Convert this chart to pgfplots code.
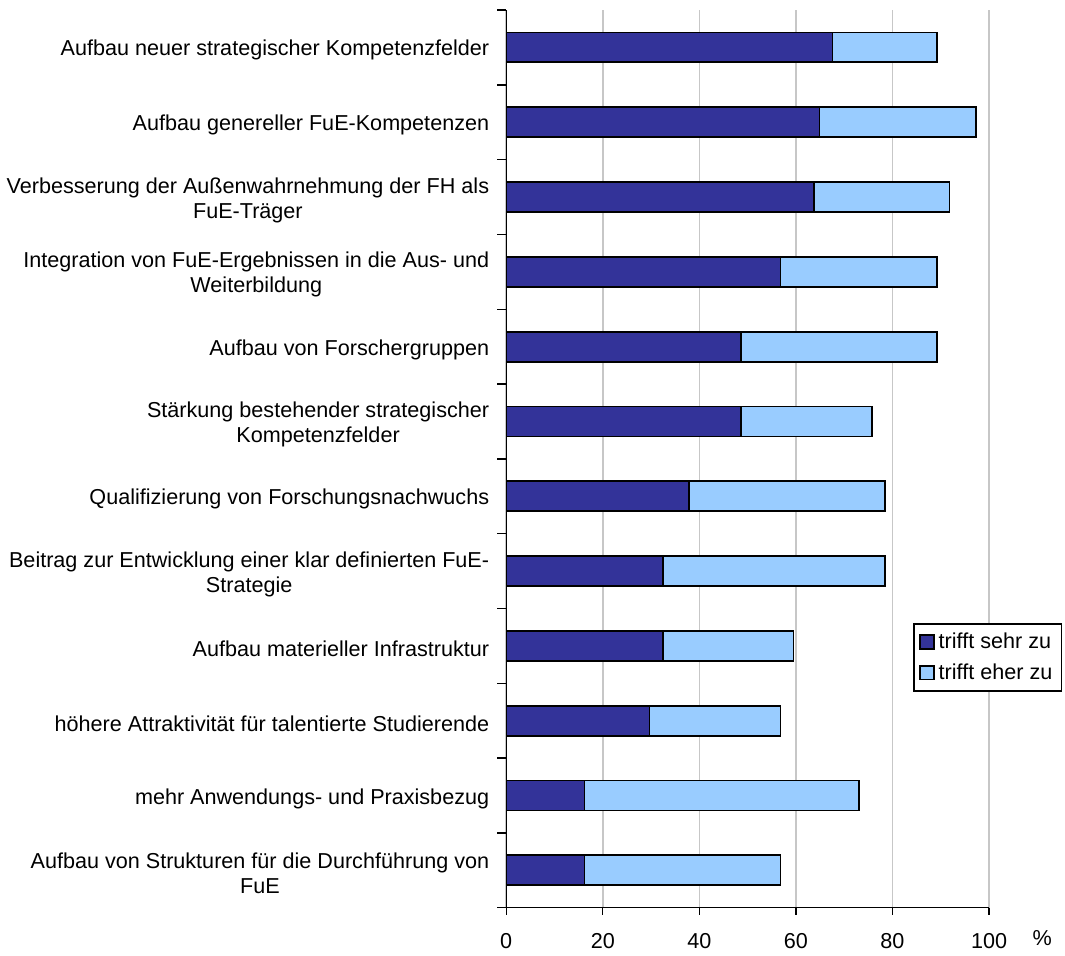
\documentclass[border=0pt]{standalone}
\usepackage{pgfplots}
\usepackage{pgfplotstable}
\pgfplotsset{compat=1.18}
\usepackage{fontspec}
\setmainfont{Liberation Sans}

\definecolor{sehr}{HTML}{333399}
\definecolor{eher}{HTML}{99CCFF}

% y: 12 = top category
\pgfplotstableread{
y  sehr  eher
12 67.6  21.6
11 64.9  32.4
10 63.8  28.0
9  56.8  32.4
8  48.6  40.6
7  48.6  27.1
6  37.8  40.6
5  32.4  46.0
4  32.4  27.1
3  29.7  27.1
2  16.2  56.8
1  16.2  40.6
}\datatable

\begin{document}
\begin{tikzpicture}
\begin{axis}[
    scale only axis,
    width=241.5pt, height=449pt,
    xbar stacked,
    bar width=15pt,
    xmin=0, xmax=100,
    ymin=0.5, ymax=12.5,
    axis lines*=left,
    axis line style={-, line width=0.7pt},
    xtick={0,20,...,100},
    xmajorgrids,
    major grid style={draw=black!22, line width=0.8pt},
    ytick={1,...,12},
    yticklabels={
      {Aufbau von Strukturen für die Durchführung von\\FuE},
      {mehr Anwendungs- und Praxisbezug},
      {höhere Attraktivität für talentierte Studierende},
      {Aufbau materieller Infrastruktur},
      {Beitrag zur Entwicklung einer klar definierten FuE-\\Strategie},
      {Qualifizierung von Forschungsnachwuchs},
      {Stärkung bestehender strategischer\\Kompetenzfelder},
      {Aufbau von Forschergruppen},
      {Integration von FuE-Ergebnissen in die Aus- und\\Weiterbildung},
      {Verbesserung der Außenwahrnehmung der FH als\\FuE-Träger},
      {Aufbau genereller FuE-Kompetenzen},
      {Aufbau neuer strategischer Kompetenzfelder}},
    minor ytick={0.5,1.5,...,12.5},
    tick align=outside,
    major tick length=3.5pt,
    minor tick length=4.5pt,
    every major y tick/.append style={draw=none},
    tick style={black, line width=0.7pt},
    yticklabel style={align=center, font=\fontsize{10.8}{12.5}\selectfont, xshift=-1.5pt, yshift=-1.5pt},
    xticklabel style={font=\fontsize{10.8}{12.5}\selectfont, yshift=-6pt},
    /pgf/number format/assume math mode=true,
    xlabel={\%},
    xlabel style={at={(rel axis cs:1.11,0)}, anchor=north, yshift=-8pt, font=\fontsize{10.8}{12.5}\selectfont},
    legend style={at={(rel axis cs:0.843,0.317)}, anchor=north west,
      draw=black, line width=0.7pt, font=\fontsize{10.8}{12.5}\selectfont,
      row sep=2pt, inner sep=2.5pt},
    legend cell align=left,
    legend image code/.code={\draw[#1, draw=black, line width=0.9pt] (0pt,-3.4pt) rectangle (7pt,3.4pt);},
]
\addplot[fill=sehr, draw=black, line width=0.9pt] table[x=sehr, y=y] {\datatable};
\addlegendentry{trifft sehr zu}
\addplot[fill=eher, draw=black, line width=0.9pt] table[x=eher, y=y] {\datatable};
\addlegendentry{trifft eher zu}
\end{axis}
\path (-253pt,-24pt) rectangle (279.5pt,454pt);
\end{tikzpicture}
\end{document}
